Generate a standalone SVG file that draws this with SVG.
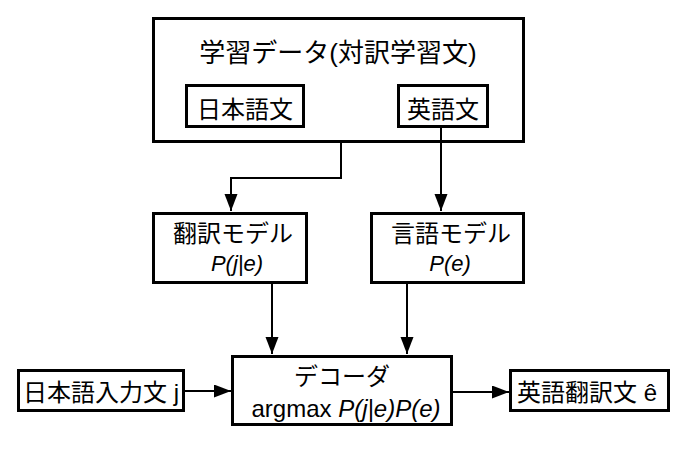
<svg xmlns="http://www.w3.org/2000/svg" width="679" height="463" viewBox="0 0 679 463">
<style>
.box{fill:#fff;stroke:#000;stroke-width:3}
.t{font-family:"Liberation Sans","Noto Sans CJK JP",sans-serif;font-size:24px;fill:#000;text-anchor:middle}
.i{font-style:italic}
.p{font-size:22px}
.c{fill:none;stroke:#000;stroke-width:2}
</style>
<defs>
<marker id="ah" markerUnits="userSpaceOnUse" markerWidth="18" markerHeight="14" refX="17" refY="6.5" orient="auto">
<path d="M0,0 L17,6.5 L0,13 Z" fill="#000"/>
</marker>
</defs>
<rect width="679" height="463" fill="#fff"/>
<g id="data">
<rect class="box" x="153.5" y="18.5" width="370" height="123"/>
<text class="t" x="338" y="62" style="font-size:26px">学習データ(対訳学習文)</text>
</g>
<g id="ja">
<rect class="box" x="186.5" y="85.5" width="117" height="41"/>
<text class="t" x="245" y="118">日本語文</text>
</g>
<g id="en">
<rect class="box" x="398.5" y="85.5" width="89" height="41"/>
<text class="t" x="443" y="118">英語文</text>
</g>
<g id="tm">
<rect class="box" x="153.5" y="213.5" width="153" height="69"/>
<text class="t" x="233" y="242">翻訳モデル</text>
<text class="t i p" x="237" y="271">P(j|e)</text>
</g>
<g id="lm">
<rect class="box" x="371.5" y="213.5" width="152" height="69"/>
<text class="t" x="451" y="242">言語モデル</text>
<text class="t i p" x="450" y="271">P(e)</text>
</g>
<g id="dec">
<rect class="box" x="232.5" y="356.5" width="219" height="68"/>
<text class="t" x="342" y="385">デコーダ</text>
<text class="t" x="346" y="417">argmax <tspan class="i">P(j|e)P(e)</tspan></text>
</g>
<g id="in">
<rect class="box" x="18.5" y="370.5" width="165" height="40"/>
<text class="t" x="101" y="401">日本語入力文 j</text>
</g>
<g id="out">
<rect class="box" x="510.5" y="370.5" width="158" height="40"/>
<text class="t" x="587" y="401">英語翻訳文 ê</text>
</g>
<g id="connectors">
<path class="c" d="M341,142 V178 H231 V211" marker-end="url(#ah)"/>
<path class="c" d="M441,128 V211" marker-end="url(#ah)"/>
<path class="c" d="M272,284 V354" marker-end="url(#ah)"/>
<path class="c" d="M407,284 V354" marker-end="url(#ah)"/>
<path class="c" d="M185,391 H231" marker-end="url(#ah)"/>
<path class="c" d="M452,392 H509" marker-end="url(#ah)"/>
</g>
</svg>
